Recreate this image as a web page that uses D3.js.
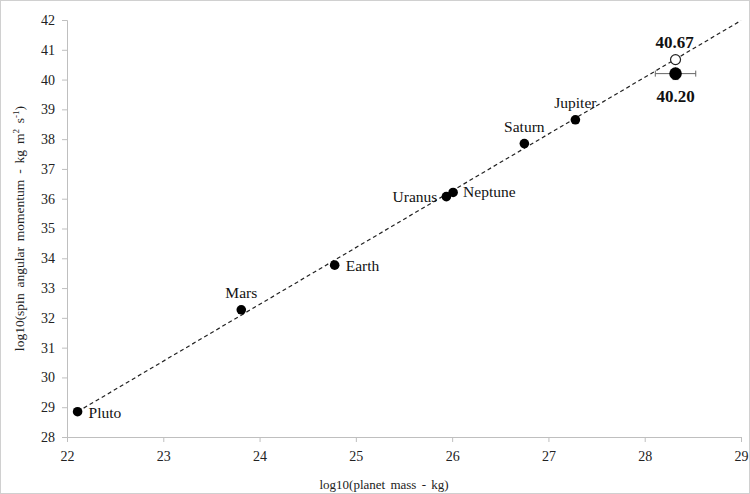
<!DOCTYPE html>
<html><head><meta charset="utf-8">
<script src="https://cdn.jsdelivr.net/npm/d3@7/dist/d3.min.js"></script>
<style>body{margin:0;background:#fff}svg{display:block}text{font-family:"Liberation Serif","Times New Roman",serif}</style>
</head><body><svg id="c" width="750" height="494"></svg>
<script>
const planets = ["Pluto","Mars","Earth","Uranus","Neptune","Saturn","Jupiter"];
const logMass = [22.11,23.81,24.78,25.94,26.01,26.75,27.28];
const logSpin = [28.85,32.27,33.77,36.07,36.21,37.85,38.65];
const predicted = {x:28.32, y:40.67, label:"40.67"};
const measured = {x:28.32, y:40.20, xErr:0.21, yErr:0.2, label:"40.20"};
const trendX = [22.11, 29];
const trendSlope = 1.906, trendIntercept = 28.85 - 1.906*22.11;
const xTicks = [22,23,24,25,26,27,28,29];
const yTicks = [28,29,30,31,32,33,34,35,36,37,38,39,40,41,42];

const svg = d3.select("#c");
svg.append("rect").attr("x",0.5).attr("y",0.5).attr("width",749).attr("height",493)
  .attr("fill","none").attr("stroke","#d0d0d0");

const m = {l:67, r:741, t:20, b:437};
const x = d3.scaleLinear().domain([22,29]).range([m.l,m.r]);
const y = d3.scaleLinear().domain([28,42]).range([m.b,m.t]);

const xa = svg.append("g").attr("transform",`translate(0,${m.b})`)
  .call(d3.axisBottom(x).tickValues(xTicks).tickSize(5).tickPadding(9).tickFormat(d3.format("d")));
const ya = svg.append("g").attr("transform",`translate(${m.l},0)`)
  .call(d3.axisLeft(y).tickValues(yTicks).tickSize(5).tickPadding(7).tickFormat(d3.format("d")));
[xa,ya].forEach(a=>{
  a.selectAll("path,line").attr("stroke","#bfbfbf");
  a.selectAll("text").attr("fill","#222").style("font-size","14px").style("font-family",'"Liberation Serif",serif');
});

svg.append("text").attr("x",384).attr("y",489).attr("text-anchor","middle")
  .style("font-size","13px").style("word-spacing","2px").attr("fill","#222").text("log10(planet mass - kg)");
const yt = svg.append("text").attr("transform",`translate(24,${(m.t+m.b)/2}) rotate(-90)`)
  .attr("text-anchor","middle").style("font-size","13.5px").style("word-spacing","2.5px").attr("fill","#222");
yt.append("tspan").text("log10(spin angular momentum - kg m");
yt.append("tspan").attr("dy",-5).style("font-size","9px").text("2");
yt.append("tspan").attr("dy",5).text(" s");
yt.append("tspan").attr("dy",-5).style("font-size","9px").text("-1");
yt.append("tspan").attr("dy",5).text(")");

// trend line
svg.append("line")
  .attr("x1",x(trendX[0])).attr("y1",y(trendIntercept+trendSlope*trendX[0]))
  .attr("x2",x(trendX[1])).attr("y2",y(trendIntercept+trendSlope*trendX[1]))
  .attr("stroke","#222").attr("stroke-width",1.2).attr("stroke-dasharray","4,3");

// planets
const pts = planets.map((p,i)=>({name:p,x:logMass[i],y:logSpin[i]}));
svg.selectAll("circle.p").data(pts).join("circle").attr("class","p")
  .attr("cx",d=>x(d.x)).attr("cy",d=>y(d.y)).attr("r",4.8).attr("fill","#000");

const lab = {
  Pluto:{dx:11,dy:6,a:"start"},
  Mars:{dx:0,dy:-12,a:"middle"},
  Earth:{dx:11,dy:6,a:"start"},
  Uranus:{dx:-9,dy:5,a:"end"},
  Neptune:{dx:10,dy:5,a:"start"},
  Saturn:{dx:0,dy:-12,a:"middle"},
  Jupiter:{dx:0,dy:-12,a:"middle"}
};
svg.selectAll("text.pl").data(pts).join("text").attr("class","pl")
  .attr("x",d=>x(d.x)+lab[d.name].dx).attr("y",d=>y(d.y)+lab[d.name].dy)
  .attr("text-anchor",d=>lab[d.name].a).style("font-size","15.5px").attr("fill","#111")
  .text(d=>d.name);

// measured with error bars
const mx = x(measured.x), my = y(measured.y);
const eg = svg.append("g").attr("stroke","#666").attr("stroke-width",1);
eg.append("line").attr("x1",x(measured.x-measured.xErr)).attr("x2",x(measured.x+measured.xErr)).attr("y1",my).attr("y2",my);
eg.append("line").attr("x1",x(measured.x-measured.xErr)).attr("x2",x(measured.x-measured.xErr)).attr("y1",my-3).attr("y2",my+3);
eg.append("line").attr("x1",x(measured.x+measured.xErr)).attr("x2",x(measured.x+measured.xErr)).attr("y1",my-3).attr("y2",my+3);
eg.append("line").attr("x1",mx).attr("x2",mx).attr("y1",y(measured.y+measured.yErr)).attr("y2",y(measured.y-measured.yErr));
eg.append("line").attr("x1",mx-3).attr("x2",mx+3).attr("y1",y(measured.y-measured.yErr)).attr("y2",y(measured.y-measured.yErr));
svg.append("circle").attr("cx",mx).attr("cy",my).attr("r",6.3).attr("fill","#000");
svg.append("circle").attr("cx",x(predicted.x)).attr("cy",y(predicted.y)).attr("r",5)
  .attr("fill","#fff").attr("stroke","#222").attr("stroke-width",1.2);
svg.append("text").attr("x",x(predicted.x)-1).attr("y",y(predicted.y)-12).attr("text-anchor","middle")
  .style("font-size","17px").style("font-weight","bold").attr("fill","#111").text(predicted.label);
svg.append("text").attr("x",mx).attr("y",my+28).attr("text-anchor","middle")
  .style("font-size","17px").style("font-weight","bold").attr("fill","#111").text(measured.label);
</script></body></html>
